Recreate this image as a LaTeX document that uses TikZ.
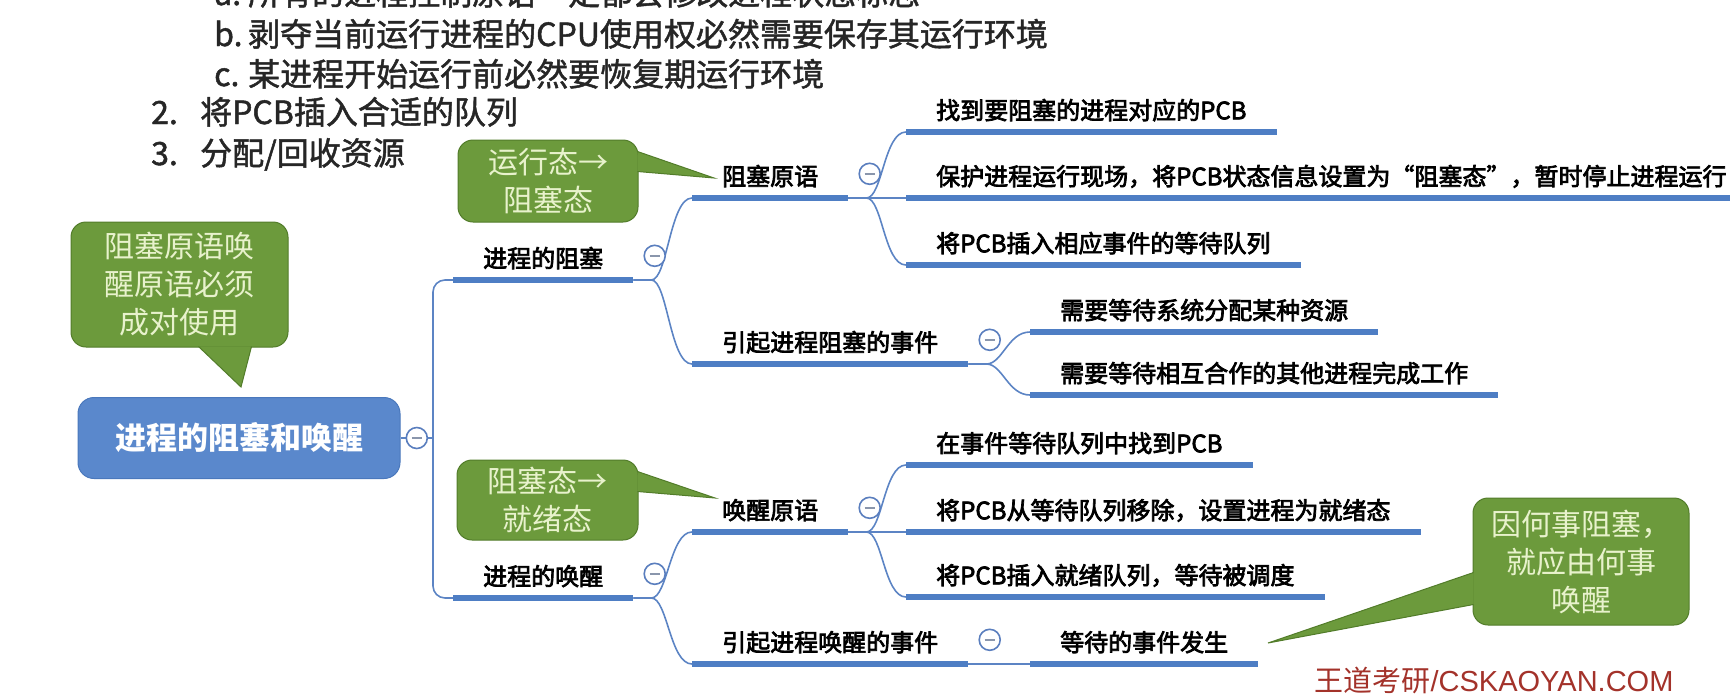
\documentclass[tikz,border=0pt]{standalone}
\usepackage{fontspec}
\setmainfont{Noto Sans CJK SC}
\newfontfamily\topicfont[FakeBold=3]{Noto Sans CJK SC}
\newfontfamily\listfont[FakeBold=1.5]{Noto Sans CJK SC}
\newfontfamily\wmfont{Liberation Sans}
\usetikzlibrary{positioning}

\definecolor{hubblue}{HTML}{5A88CC}
\definecolor{hubedge}{HTML}{4A78BC}
\definecolor{ublue}{HTML}{4E7EC4}
\definecolor{cblue}{HTML}{5C84C4}
\definecolor{foldblue}{HTML}{5A7EBE}
\definecolor{foldgray}{HTML}{8A96AC}
\definecolor{notegreen}{HTML}{6C9A3C}
\definecolor{noteline}{HTML}{527C2A}
\definecolor{notetext}{HTML}{E8F2CC}
\definecolor{wmred}{HTML}{A3322A}

\begin{document}
\begin{tikzpicture}[x=1pt,y=-1pt,
  topic/.style={anchor=south west,inner xsep=30pt,inner ysep=7.5pt,
    text height=18pt,text depth=5pt,font=\topicfont\fontsize{24}{28}\selectfont},
  uline/.style={line width=6pt,draw=ublue},
  conn/.style={line width=1.6pt,draw=cblue},
  fold/.style={circle,draw=foldblue,line width=1.6pt,fill=white,
    minimum size=21pt,inner sep=0pt,
    path picture={\draw[foldgray,line width=2.2pt]
      ([xshift=-5pt]path picture bounding box.center) --
      ([xshift=5pt]path picture bounding box.center);}},
  hub/.style={fill=hubblue,draw=hubedge,line width=1pt,rounded corners=16pt,
    minimum width=322pt,minimum height=81pt,text=white,
    font=\bfseries\fontsize{31}{36}\selectfont},
  note/.style={fill=notegreen,draw=noteline,line width=1pt,rounded corners=15pt,
    text=notetext,align=center,inner sep=0pt,font=\fontsize{30}{38}\selectfont},
  ptr/.style={fill=notegreen,draw=noteline,line width=1pt},
  toptext/.style={anchor=base west,inner sep=0pt,
    font=\listfont\fontsize{32}{38}\selectfont,text=black!85}]
  \useasboundingbox (0,0) rectangle (1730,697);
  \clip (0,0) rectangle (1730,697);

  \node[toptext] (la) at (214,5) {\makebox[34pt][l]{a.}所有的进程控制原语一定都会修改进程状态标志};
  \node[toptext] (lb) at (214,46) {\makebox[34pt][l]{b.}剥夺当前运行进程的CPU使用权必然需要保存其运行环境};
  \node[toptext] (lc) at (214,86) {\makebox[34pt][l]{c.}某进程开始运行前必然要恢复期运行环境};
  \node[toptext] (l2) at (151,124) {\makebox[49pt][l]{2.}将PCB插入合适的队列};
  \node[toptext] (l3) at (151,165) {\makebox[49pt][l]{3.}分配/回收资源};

  \node[hub] (hub) at (239,438) {进程的阻塞和唤醒};

  \node[topic] (b1) at (453,280) {进程的阻塞};
  \node[topic] (b2) at (453,598) {进程的唤醒};
  \node[topic] (b1a) at (692,198) {阻塞原语};
  \node[topic] (b1b) at (692,364) {引起进程阻塞的事件};
  \node[topic] (b2a) at (692,532) {唤醒原语};
  \node[topic] (b2b) at (692,664) {引起进程唤醒的事件};
  \node[topic] (c1) at (906,132) {找到要阻塞的进程对应的PCB};
  \node[topic] (c2) at (906,198) {保护进程运行现场，将PCB状态信息设置为“阻塞态”，暂时停止进程运行};
  \node[topic] (c3) at (906,265) {将PCB插入相应事件的等待队列};
  \node[topic] (c4) at (1030,332) {需要等待系统分配某种资源};
  \node[topic] (c5) at (1030,395) {需要等待相互合作的其他进程完成工作};
  \node[topic] (c6) at (906,465) {在事件等待队列中找到PCB};
  \node[topic] (c7) at (906,532) {将PCB从等待队列移除，设置进程为就绪态};
  \node[topic] (c8) at (906,597) {将PCB插入就绪队列，等待被调度};
  \node[topic] (c9) at (1030,664) {等待的事件发生};

  \foreach \n in {b1,b2,b1a,b1b,b2a,b2b,c1,c2,c3,c4,c5,c6,c7,c8,c9}
    \draw[uline] (\n.south west) -- (\n.south east);

  \coordinate (trunk) at (433,438);
  \draw[conn] (hub.east) -- (trunk);
  \draw[conn,rounded corners=12pt] (trunk) |- (b1.south west);
  \draw[conn,rounded corners=12pt] (trunk) |- (b2.south west);

  \foreach \p/\c in {b1/b1a,b1/b1b,b2/b2a,b2/b2b,b1a/c1,b1a/c2,b1a/c3,
      b1b/c4,b1b/c5,b2a/c6,b2a/c7,b2a/c8,b2b/c9}
    \draw[conn] (\p.south east) -- ++(18,0) .. controls +(16,0) and +(-22,0) .. (\c.south west);

  \node[fold,right=5pt of hub] (f0) {};
  \foreach \n in {b1,b2,b1a,b1b,b2a,b2b}
    \node[fold,right=10pt of \n.east,yshift=5pt] (f\n) {};

  \node[note,minimum width=180pt,minimum height=82pt] (n1) at (548,181) {运行态→\\阻塞态};
  \coordinate (t1) at (714,178);
  \path[ptr] ([xshift=-1pt,yshift=-12pt]n1.north east) -- (t1) -- ([xshift=-1pt,yshift=-32pt]n1.north east);

  \node[note,minimum width=217pt,minimum height=125pt] (n2) at (179.5,284.5) {阻塞原语唤\\醒原语必须\\成对使用};
  \coordinate (t2) at (241,387);
  \path[ptr] ([xshift=128pt,yshift=1pt]n2.south west) -- (t2) -- ([xshift=181pt,yshift=1pt]n2.south west);

  \node[note,minimum width=181pt,minimum height=80pt] (n3) at (547.5,500) {阻塞态→\\就绪态};
  \coordinate (t3) at (715,498);
  \path[ptr] ([xshift=-1pt,yshift=-12pt]n3.north east) -- (t3) -- ([xshift=-1pt,yshift=-32pt]n3.north east);

  \node[note,minimum width=216pt,minimum height=127pt] (n4) at (1581,561.5) {因何事阻塞，\\就应由何事\\唤醒};
  \coordinate (t4) at (1268,643);
  \path[ptr] ([xshift=1pt,yshift=-75pt]n4.north west) -- (t4) -- ([xshift=1pt,yshift=-107pt]n4.north west);

  \node[text=wmred,font=\fontsize{29}{32}\selectfont,inner sep=0pt] (wm) at (1494,680) {王道考研{\wmfont /CSKAOYAN.COM}};
\end{tikzpicture}
\end{document}
